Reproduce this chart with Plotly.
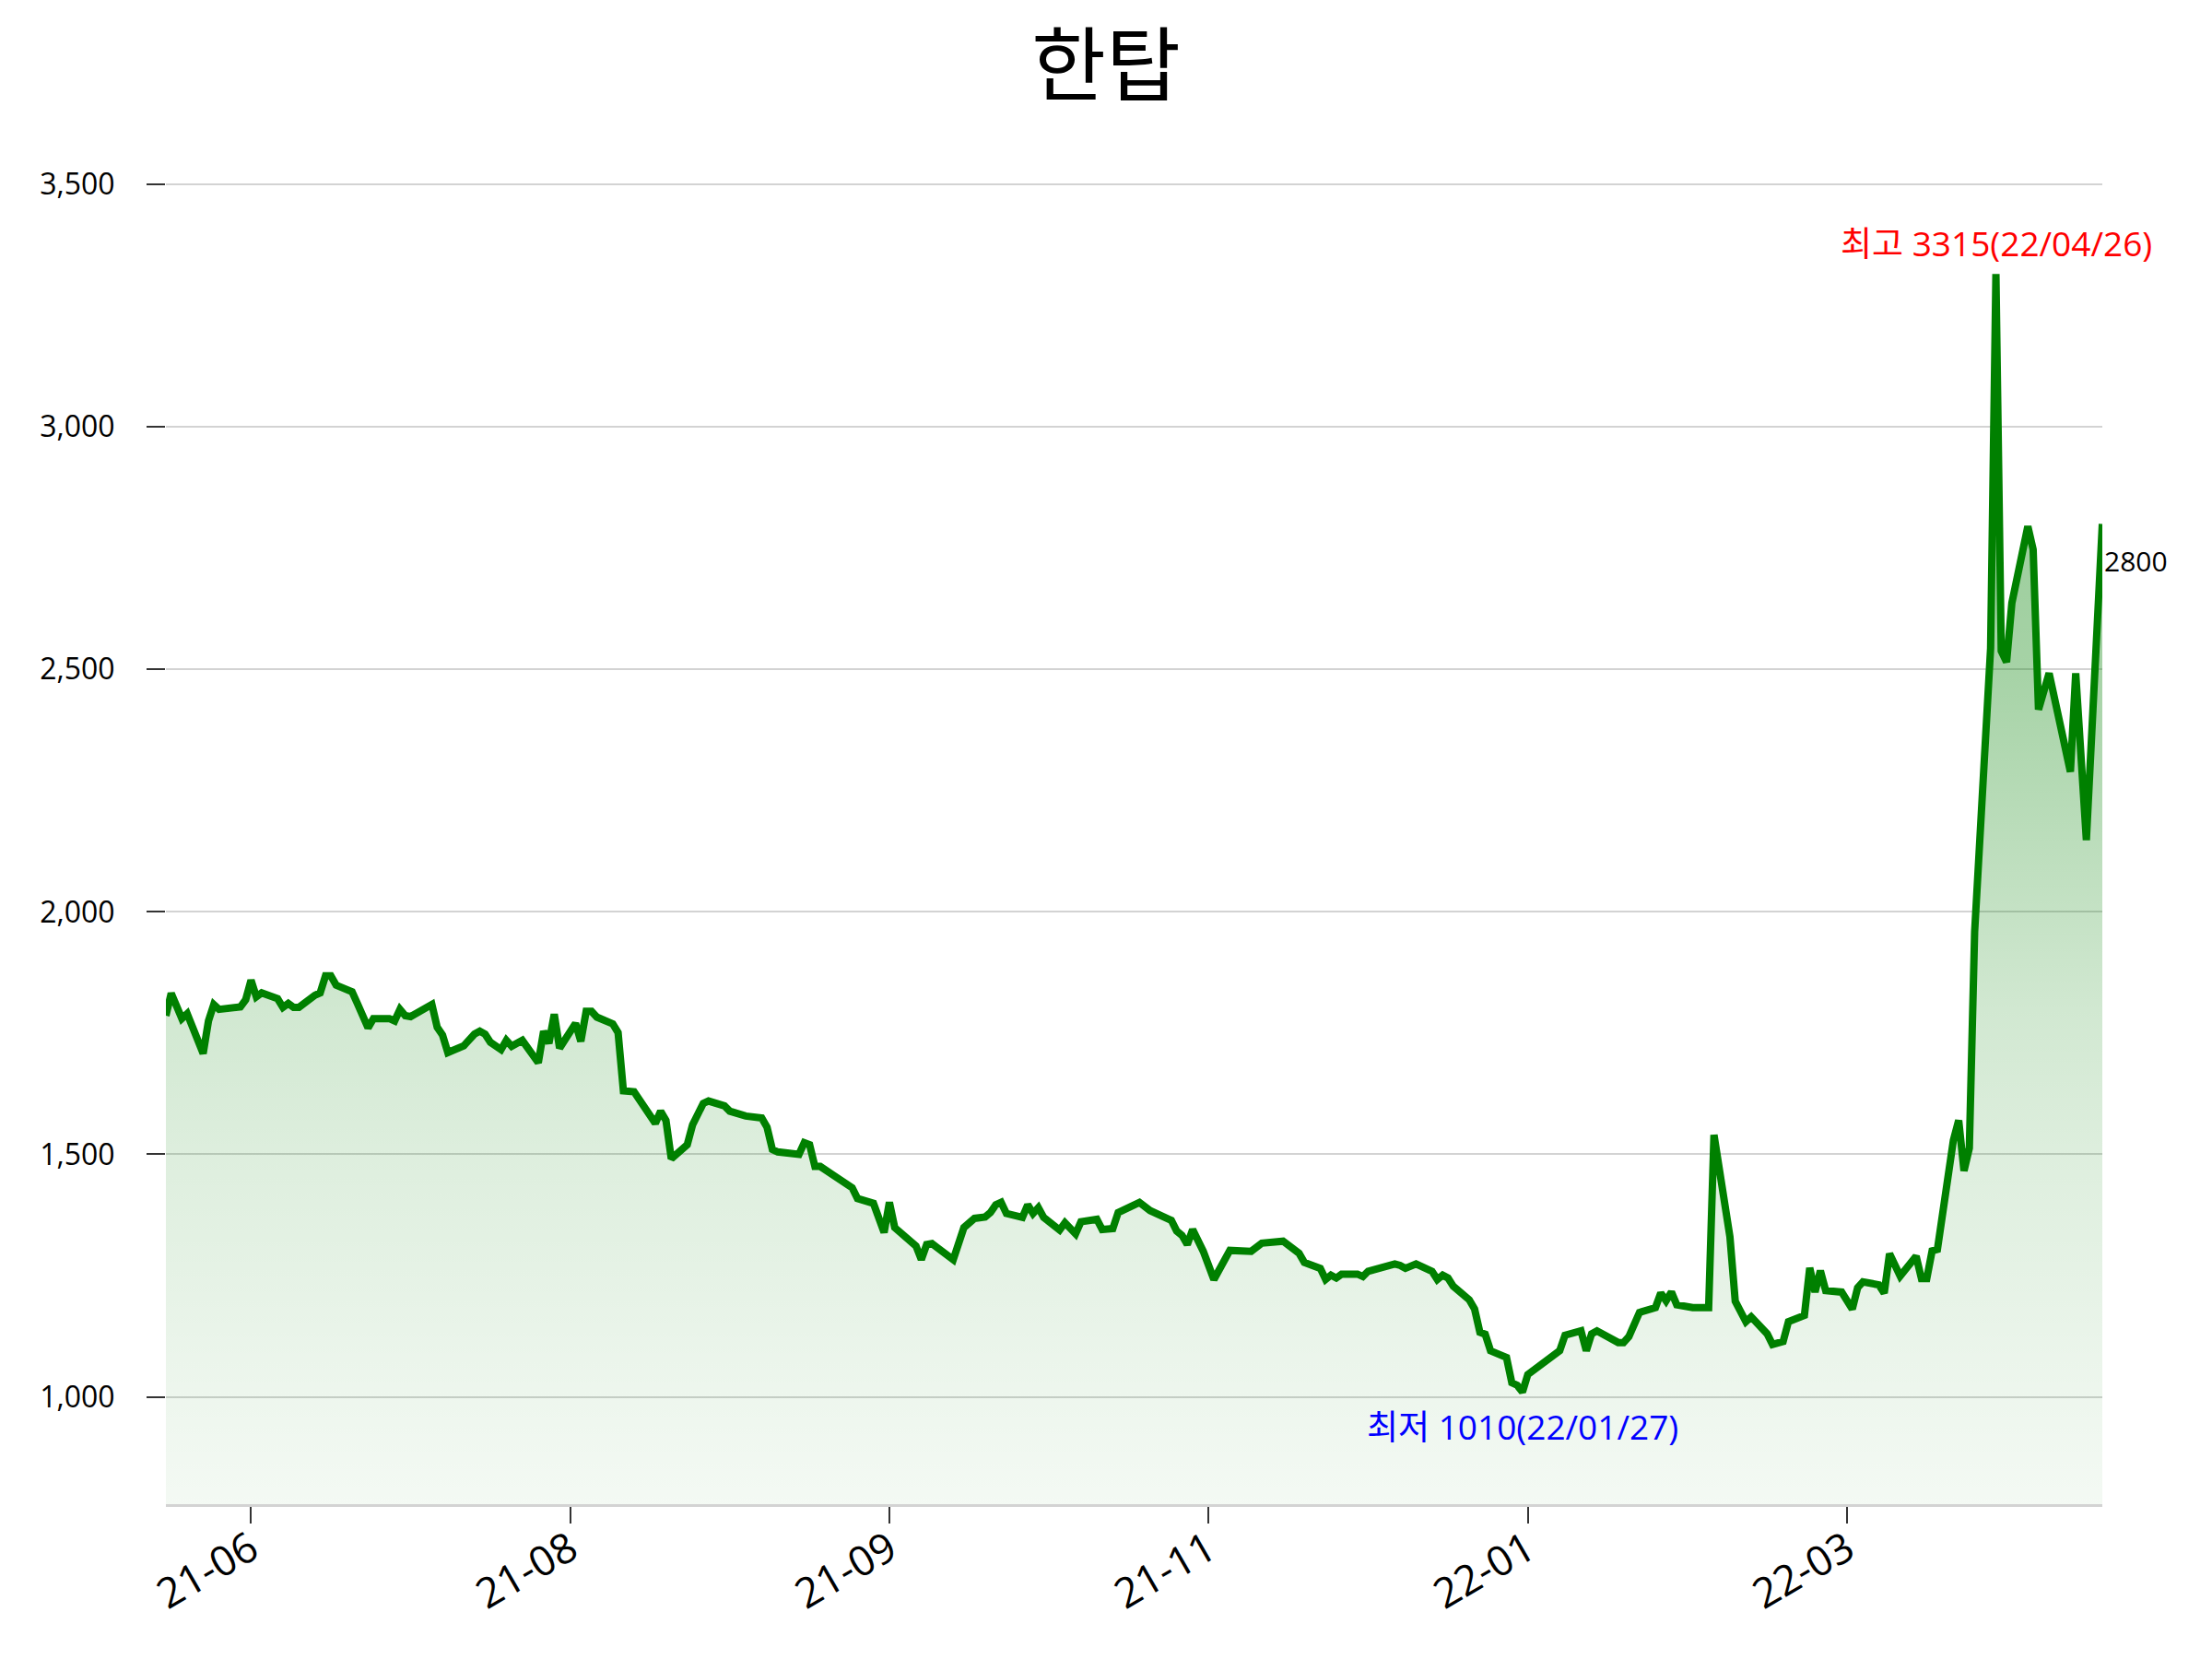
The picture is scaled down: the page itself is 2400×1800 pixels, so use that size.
import pandas as pd
import plotly.graph_objects as go

title = "한탑"
start_date = "2021-05-17"
# calendar-day offsets from start_date and closing prices
day_offset = [
    0, 1, 3, 4, 7, 8, 9, 10, 14, 15, 16, 17, 18, 21, 22, 23, 24, 25, 28, 29,
    30, 31, 32, 35, 36, 38, 39, 42, 43, 44, 45, 46, 50, 51, 52, 53, 56, 58, 59, 60,
    61, 63, 64, 65, 67, 70, 71, 72, 73, 74, 77, 78, 79, 80, 81, 84, 85, 86, 88, 92,
    93, 94, 95, 98, 99, 101, 102, 105, 106, 107, 108, 109, 112, 113, 114, 115, 119, 120, 121, 122,
    123, 129, 130, 133, 135, 136, 137, 141, 142, 143, 144, 148, 150, 152, 154, 155, 156, 157, 158, 161,
    162, 163, 164, 165, 168, 169, 171, 172, 175, 176, 178, 179, 183, 185, 189, 190, 191, 192, 193, 195,
    197, 200, 204, 206, 210, 211, 213, 214, 217, 218, 219, 220, 221, 224, 225, 226, 231, 232, 233, 235,
    238, 239, 240, 241, 242, 245, 246, 247, 248, 249, 252, 253, 254, 255, 256, 262, 263, 266, 267, 268,
    269, 273, 274, 275, 276, 277, 280, 281, 282, 283, 284, 287, 290, 291, 294, 295, 297, 298, 301, 302,
    303, 304, 305, 308, 309, 310, 311, 312, 315, 317, 318, 319, 322, 323, 324, 326, 329, 330, 331, 332,
    333, 336, 337, 338, 339, 340, 343, 344, 345, 346, 347, 350, 351, 352, 354, 358, 359, 361, 364,
]
price = [
    1786, 1832, 1780, 1790, 1708, 1775, 1809, 1799, 1804, 1819, 1859, 1825, 1833, 1821, 1803, 1811, 1803, 1803, 1828, 1833,
    1868, 1868, 1849, 1835, 1811, 1761, 1780, 1780, 1775, 1799, 1786, 1784, 1809, 1762, 1746, 1710, 1724, 1748, 1754, 1748,
    1731, 1716, 1735, 1723, 1735, 1689, 1754, 1729, 1789, 1719, 1770, 1733, 1795, 1795, 1783, 1769, 1751, 1631, 1629, 1564,
    1589, 1570, 1491, 1520, 1561, 1605, 1610, 1600, 1589, 1585, 1584, 1579, 1575, 1556, 1510, 1505, 1500, 1524, 1520, 1475,
    1475, 1431, 1409, 1399, 1339, 1401, 1349, 1311, 1283, 1314, 1316, 1283, 1349, 1368, 1371, 1380, 1396, 1401, 1378, 1370,
    1396, 1378, 1390, 1370, 1344, 1359, 1336, 1361, 1366, 1345, 1347, 1380, 1401, 1384, 1364, 1342, 1333, 1314, 1345, 1300,
    1242, 1302, 1300, 1317, 1321, 1314, 1296, 1277, 1265, 1242, 1251, 1245, 1253, 1253, 1248, 1259, 1274, 1271, 1265, 1274,
    1259, 1242, 1251, 1245, 1228, 1200, 1181, 1133, 1129, 1095, 1081, 1029, 1024, 1010, 1046, 1095, 1127, 1136, 1095, 1130,
    1136, 1112, 1112, 1124, 1152, 1174, 1184, 1214, 1198, 1216, 1190, 1184, 1184, 1540, 1330, 1197, 1155, 1165, 1130, 1108,
    1111, 1114, 1155, 1168, 1266, 1216, 1260, 1219, 1216, 1181, 1225, 1237, 1231, 1214, 1295, 1249, 1290, 1244, 1244, 1301,
    1304, 1529, 1570, 1466, 1513, 1959, 2544, 3315, 2538, 2515, 2637, 2795, 2747, 2417, 2492, 2289, 2492, 2148, 2800,
]
tick_dates = ["2021-06-02", "2021-08-01", "2021-09-30", "2021-11-29", "2022-01-28", "2022-03-29"]
tick_text = ["21-06", "21-08", "21-09", "21-11", "22-01", "22-03"]
y_ticks = [1000, 1500, 2000, 2500, 3000, 3500]

dates = pd.Timestamp(start_date) + pd.to_timedelta(day_offset, unit="D")
s = pd.Series(price, index=dates)
hi_date, hi_val = s.idxmax(), s.max()
lo_date, lo_val = s.idxmin(), s.min()
last_date, last_val = s.index[-1], s.iloc[-1]

y_lo = lo_val * 0.771
y_hi = hi_val * 1.1

KR = "Noto Sans CJK KR"
MIX = "Open Sans, Noto Sans CJK KR"

fig = go.Figure()
fig.add_trace(go.Scatter(
    x=dates, y=price, mode="lines",
    line=dict(color="#008000", width=8),
    fill="tozeroy",
    fillgradient=dict(
        type="vertical",
        start=y_lo, stop=hi_val,
        colorscale=[
            [0.0, "rgba(0,128,0,0.045)"],
            [0.09, "rgba(0,128,0,0.07)"],
            [0.28, "rgba(0,128,0,0.13)"],
            [0.40, "rgba(0,128,0,0.18)"],
            [0.68, "rgba(0,128,0,0.35)"],
            [1.0, "rgba(0,128,0,0.45)"],
        ],
    ),
    hoverinfo="skip", showlegend=False,
))

fig.add_annotation(x=hi_date, y=hi_val, text=f"최고 {hi_val}({hi_date:%y/%m/%d})",
                   showarrow=False, xanchor="center", yanchor="bottom", yshift=6,
                   font=dict(family=MIX, size=37, color="red"))
fig.add_annotation(x=lo_date, y=lo_val, text=f"최저 {lo_val}({lo_date:%y/%m/%d})",
                   showarrow=False, xanchor="center", yanchor="top", yshift=-10,
                   font=dict(family=MIX, size=37, color="blue"))
fig.add_annotation(x=last_date, y=last_val, text=f"{last_val}",
                   showarrow=False, xanchor="left", yanchor="middle", yshift=-40, xshift=0,
                   font=dict(family=MIX, size=30, color="black"))

fig.update_layout(
    width=2400, height=1800,
    paper_bgcolor="white", plot_bgcolor="white",
    margin=dict(l=180, r=119, t=123, b=168, pad=0),
    font=dict(family=MIX, size=32, color="black"),
    title=dict(text=title, x=0.5, xref="container", xanchor="center",
               y=1 - 71 / 1800, yref="container", yanchor="middle",
               font=dict(family=KR, size=88, color="black")),
)
fig.update_xaxes(
    type="date", range=[dates[0], dates[-1]],
    tickvals=tick_dates, ticktext=tick_text, tickangle=-30,
    ticks="outside", ticklen=18, tickwidth=1.5, tickcolor="#333333",
    showline=True, linecolor="#d3d3d3", linewidth=3,
    showgrid=False, zeroline=False, ticklabelstandoff=-16,
    tickfont=dict(family=MIX, size=45, color="black"),
)
fig.update_yaxes(
    range=[y_lo, y_hi], tickvals=y_ticks, tickformat=",",
    ticks="outside", ticklen=20, tickwidth=1.5, tickcolor="#333333",
    showline=False, zeroline=False, ticklabelstandoff=28,
    showgrid=True, gridcolor="#d3d3d3", gridwidth=1.5,
    tickfont=dict(family=MIX, size=32, color="black"),
)

fig.write_html("out.html")
